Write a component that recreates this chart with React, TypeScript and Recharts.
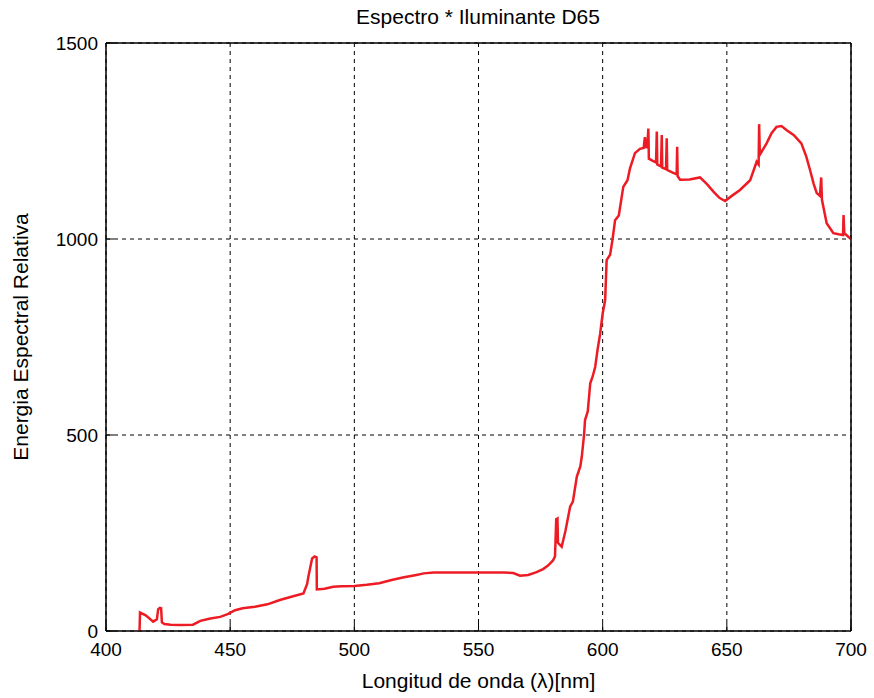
import { LineChart, Line, XAxis, YAxis, CartesianGrid, ReferenceArea } from 'recharts'

const wavelengths = [
  413.5, 413.7, 416, 419, 420.5, 421, 421.7, 422.2, 422.5, 423.5, 426, 430, 435, 438, 442, 446, 449, 452, 455,
  460, 465, 470, 475, 479.5, 481, 481.5, 483, 484, 484.8, 484.9, 488, 491.5, 495, 500, 505, 510, 515, 520, 525,
  528, 532, 540, 550, 560, 564, 566.7, 570, 573.4, 576, 578, 580, 580.8, 581.3, 581.8, 582, 583.5, 585, 586.9,
  588, 589.6, 591, 591.6, 592.5, 592.9, 594, 595, 596, 597, 598, 599, 600, 601, 601.6, 603, 604, 605, 606.5,
  608.3, 610, 611, 613, 615, 616.5, 617, 617.5, 618, 618.4, 618.6, 620, 621.5, 621.8, 622, 623.5, 623.8, 624,
  625.5, 625.8, 626, 628, 629.8, 630, 630.2, 631.2, 635, 639.2, 642, 644.6, 647, 649.3, 652, 655.3, 659.4, 662,
  662.8, 663, 663.3, 666, 668, 670, 672, 674, 677, 680, 682, 683.5, 685, 686.2, 687.5, 688, 688.3, 690.2, 692.9,
  695, 696.8, 697, 697.3, 699.6, 700,
]

const energia = [
  0, 47, 40, 24, 30, 55, 59, 58, 22, 18, 16, 15, 16, 26, 32, 36, 43, 53, 58,
  62, 68, 79, 88, 96, 120, 139, 185, 190, 188, 106, 108, 113, 114, 115, 118, 122, 130, 137, 143,
  147, 149, 149, 149, 149, 148, 141, 143, 150, 158, 167, 180, 190, 285, 287, 225, 215, 255, 317,
  330, 394, 420, 445, 500, 538, 560, 632, 650, 674, 720, 759, 810, 844, 946, 960, 1000, 1048, 1060,
  1133, 1150, 1180, 1219, 1230, 1232, 1260, 1232, 1240, 1282, 1205, 1200, 1195, 1274, 1190, 1185, 1265, 1182,
  1178, 1257, 1176, 1170, 1165, 1235, 1160, 1151, 1152, 1157, 1140, 1121, 1105, 1097, 1110, 1125, 1150, 1197,
  1190, 1293, 1215, 1244, 1270, 1286, 1288, 1278, 1265, 1244, 1210, 1176, 1140, 1117, 1110, 1157, 1100, 1040, 1015,
  1012, 1010, 1061, 1015, 1002, 1000,
]

const xTicks = [400, 450, 500, 550, 600, 650, 700]
const yTicks = [0, 500, 1000, 1500]

const data = wavelengths.map((nm, i) => ({ nm, valor: energia[i] }))

const font = '"Liberation Sans", Arial, sans-serif'
const tickStyle = { fontSize: 19, fill: '#000', fontFamily: font }

export default function App() {
  return (
    <div style={{ position: 'absolute', left: 0, top: 0, width: 874, height: 698, background: '#fff' }}>
      <LineChart width={874} height={698} data={data} margin={{ top: 42, right: 22, bottom: 37, left: 46 }}>
        <CartesianGrid stroke="#000" strokeDasharray="4 4" strokeWidth={1} />
        <XAxis
          dataKey="nm"
          type="number"
          domain={[400, 700]}
          ticks={xTicks}
          height={30}
          stroke="#000"
          tickSize={-8}
          tickMargin={20}
          tick={tickStyle}
          label={{ value: 'Longitud de onda (λ)[nm]', position: 'bottom', offset: 12, style: { fontSize: 21, fill: '#000', fontFamily: font } }}
        />
        <XAxis xAxisId="top" dataKey="nm" orientation="top" type="number" domain={[400, 700]} ticks={xTicks} stroke="#000" tickSize={-8} tick={false} height={1} />
        <YAxis
          type="number"
          domain={[0, 1500]}
          ticks={yTicks}
          width={60}
          stroke="#000"
          tickSize={-8}
          tickMargin={16}
          tick={tickStyle}
          label={{ value: 'Energia Espectral Relativa', angle: -90, position: 'insideLeft', offset: -25, style: { textAnchor: 'middle', fontSize: 21, fill: '#000', fontFamily: font } }}
        />
        <YAxis yAxisId="right" orientation="right" type="number" domain={[0, 1500]} ticks={yTicks} stroke="#000" tickSize={-8} tick={false} width={1} />
        <ReferenceArea x1={400} x2={700} y1={0} y2={1500} fill="none" stroke="#000" strokeWidth={1} ifOverflow="visible" />
        <Line
          xAxisId="top"
          yAxisId="right"
          type="linear"
          dataKey="valor"
          stroke="none"
          dot={false}
          activeDot={false}
          isAnimationActive={false}
        />
        <Line
          type="linear"
          dataKey="valor"
          stroke="#ed1c24"
          strokeWidth={2.5}
          dot={false}
          isAnimationActive={false}
        />
        <text x={478} y={24} textAnchor="middle" style={{ fontSize: 21, fontFamily: font, fill: '#000' }}>
          Espectro * Iluminante D65
        </text>
      </LineChart>
    </div>
  )
}
